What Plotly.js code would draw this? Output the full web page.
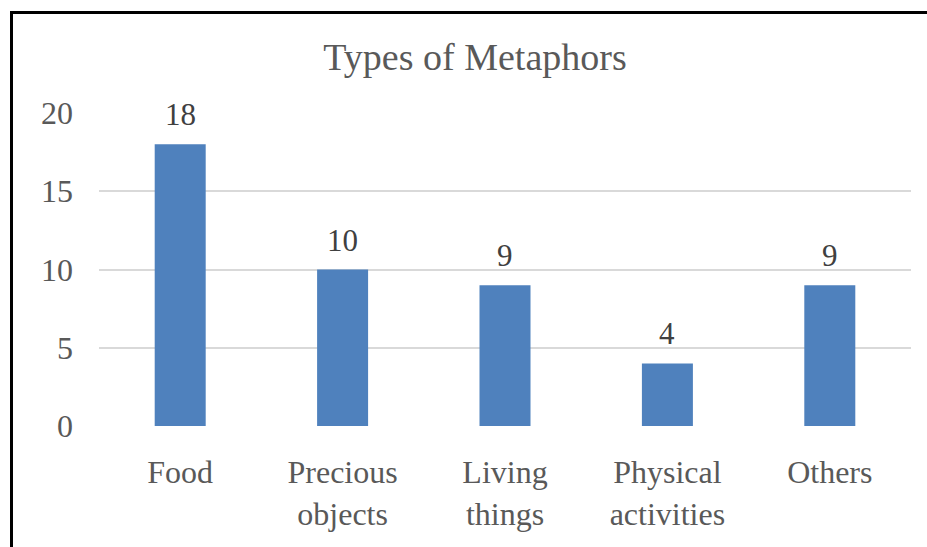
<!DOCTYPE html>
<html><head><meta charset="utf-8">
<script src="https://cdn.plot.ly/plotly-3.0.1.min.js"></script>
<style>
html,body{margin:0;padding:0;background:#fff;}
#frame{position:absolute;left:10px;top:11px;width:917px;height:536px;border-left:3px solid #000;border-top:3px solid #000;box-sizing:border-box;pointer-events:none;z-index:5;}
#chart{position:absolute;left:0;top:0;width:927px;height:547px;}
</style></head>
<body>
<div id="chart"></div><div id="frame"></div>
<script>
const categories = ["Food", "Precious<br>objects", "Living<br>things", "Physical<br>activities", "Others"];
const counts = [18, 10, 9, 4, 9];
const yTicks = [0, 5, 10, 15, 20];

const font = "Liberation Serif, Times New Roman, serif";
const annotations = categories.map((c, i) => ({
  x: c, y: counts[i], xref: "x", yref: "y", text: String(counts[i]),
  showarrow: false, yanchor: "bottom", yshift: 10,
  font: {family: font, size: 31, color: "#404040"}
}));
Plotly.newPlot("chart", [{
  type: "bar",
  x: categories,
  y: counts,
  marker: {color: "#4f81bd"},
  hoverinfo: "none"
}], {
  width: 927, height: 547,
  margin: {l: 99, r: 16, t: 113, b: 121},
  paper_bgcolor: "#fff", plot_bgcolor: "#fff",
  bargap: 0.686,
  showlegend: false,
  annotations: annotations,
  title: {text: "Types of Metaphors", font: {family: font, size: 38, color: "#595959"},
          x: 475/927, xref: "container", xanchor: "center", y: 1 - 57/547, yref: "container", yanchor: "middle"},
  xaxis: {tickfont: {family: font, size: 32, color: "#595959"}, showgrid: false, zeroline: false, showline: false, ticks: "", ticklabelstandoff: 24, fixedrange: true},
  yaxis: {range: [0, 20], tickvals: yTicks, ticktext: yTicks.map(String), showgrid: true, gridcolor: "#d9d9d9", gridwidth: 2,
          zeroline: false, showline: false, ticks: "", ticklabelstandoff: 25,
          tickfont: {family: font, size: 32, color: "#595959"}, fixedrange: true}
}, {displayModeBar: false, staticPlot: true});
</script>
</body></html>
